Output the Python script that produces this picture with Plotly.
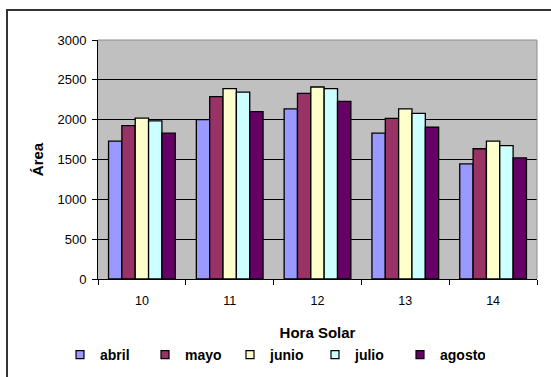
import plotly.graph_objects as go

# Hours on the category axis
horas = ["10", "11", "12", "13", "14"]

# Area per month at each solar hour
abril = [1730, 2000, 2135, 1830, 1445]
mayo = [1925, 2290, 2330, 2015, 1635]
junio = [2020, 2390, 2410, 2135, 1730]
julio = [1985, 2345, 2390, 2080, 1675]
agosto = [1830, 2100, 2230, 1905, 1520]

meses = ["abril", "mayo", "junio", "julio", "agosto"]
series = [abril, mayo, junio, julio, agosto]
colores = ["#9999FF", "#993366", "#FFFFCC", "#CCFFFF", "#660066"]

FONT = "Liberation Sans, Arial, sans-serif"

fig = go.Figure()

for nombre, valores, color in zip(meses, series, colores):
    fig.add_trace(go.Bar(
        x=horas, y=valores, name=nombre,
        marker=dict(color=color, line=dict(color="black", width=1.3)),
        showlegend=False,
    ))

# Small square legend keys
for nombre, color in zip(meses, colores):
    fig.add_trace(go.Scatter(
        x=[None], y=[None], name=nombre, mode="markers",
        marker=dict(symbol="square", size=8, color=color,
                    line=dict(color="black", width=1.2)),
        showlegend=True,
    ))

W, H = 551, 377
ml, mr, mt, mb = 98, 14, 40, 98
pw, ph = W - ml - mr, H - mt - mb

def px_x(p):
    return (p - ml) / pw

def px_y(p):
    return (H - mb - p) / ph

fig.update_layout(
    width=W, height=H,
    margin=dict(l=ml, r=mr, t=mt, b=mb, pad=0, autoexpand=False),
    paper_bgcolor="white",
    plot_bgcolor="#C0C0C0",
    barmode="group",
    bargap=0.24,
    bargroupgap=0,
    font=dict(family=FONT, color="black"),
    showlegend=True,
    legend=dict(
        orientation="h",
        xref="paper", x=px_x(60), xanchor="left",
        yref="paper", y=px_y(355), yanchor="middle",
        font=dict(family=FONT, size=14, color="black", weight="bold"),
        entrywidth=40, entrywidthmode="pixels",
        itemwidth=30,
        bgcolor="rgba(0,0,0,0)",
        traceorder="normal",
    ),
    xaxis=dict(
        type="category",
        showgrid=False,
        showline=True, linecolor="black", linewidth=1,
        ticks="outside", tickson="boundaries", ticklen=5,
        tickcolor="black", tickwidth=1,
        ticklabelstandoff=10,
        tickfont=dict(family=FONT, size=12.5, color="black"),
        title=dict(text="Hora Solar", standoff=20,
                   font=dict(family=FONT, size=15, color="black", weight="bold")),
        automargin=False,
    ),
    yaxis=dict(
        range=[0, 3000],
        tickvals=[0, 500, 1000, 1500, 2000, 2500, 3000],
        showgrid=True, gridcolor="black", gridwidth=1,
        zeroline=False,
        showline=True, linecolor="black", linewidth=1,
        ticks="outside", ticklen=5, tickcolor="black", tickwidth=1,
        ticklabelstandoff=3,
        tickfont=dict(family=FONT, size=13, color="black"),
        title=dict(text="Área", standoff=10,
                   font=dict(family=FONT, size=15, color="black", weight="bold")),
        automargin=False,
    ),
    shapes=[
        # gray edge along top and right of the plot area
        dict(type="line", xref="paper", yref="paper", x0=0, x1=1, y0=1, y1=1,
             line=dict(color="#8C8C8C", width=1), layer="above"),
        dict(type="line", xref="paper", yref="paper", x0=1, x1=1, y0=0, y1=1,
             line=dict(color="#8C8C8C", width=1), layer="above"),
        # outer chart frame
        dict(type="rect", xref="paper", yref="paper",
             x0=px_x(7), x1=px_x(566), y0=px_y(392), y1=px_y(10),
             line=dict(color="#333333", width=2), fillcolor="rgba(0,0,0,0)",
             layer="above"),
    ],
)

fig.write_html("out.html")
